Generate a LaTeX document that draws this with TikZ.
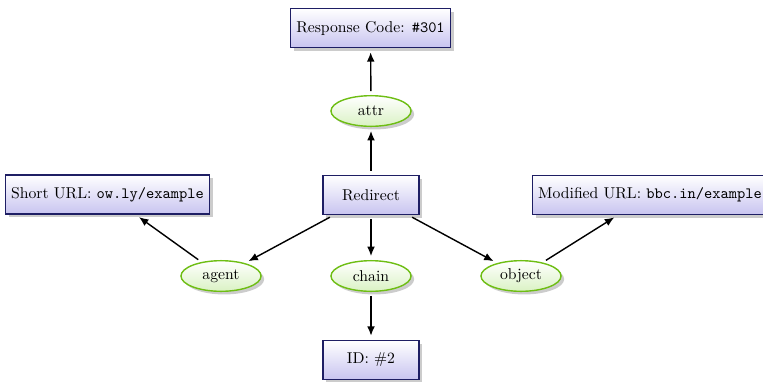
\documentclass[tikz,border=0pt]{standalone}
\usetikzlibrary{shapes.geometric,shadows,arrows.meta}
\definecolor{boxline}{RGB}{30,30,100}
\definecolor{boxbot}{RGB}{200,196,240}
\definecolor{ellline}{RGB}{110,190,20}
\definecolor{ellbot}{RGB}{218,242,196}
\begin{document}
\begin{tikzpicture}[x=0.637pt,y=-0.637pt,
  boxnode/.style={rectangle, draw=boxline, line width=0.9pt, top color=white, bottom color=boxbot,
    minimum height=25pt, minimum width=61pt, inner sep=3.6pt, drop shadow={opacity=0.4,shadow xshift=2pt,shadow yshift=-2pt}},
  ellnode/.style={ellipse, draw=ellline, line width=0.9pt, top color=white, bottom color=ellbot,
    minimum height=19.5pt, minimum width=51pt, inner sep=1pt, drop shadow={opacity=0.4,shadow xshift=2pt,shadow yshift=-2pt}},
  conn/.style={-{Latex[length=6pt,width=5pt]}, line width=0.9pt, shorten >=2.5pt, shorten <=2.5pt}]
\useasboundingbox (0,0) rectangle (763,381);
\begin{scope}
\clip (0,0) rectangle (763,381);
\node[boxnode] (resp) at (370.5,28) {Response Code: \texttt{\#301}};
\node[ellnode] (attr) at (371,111) {attr};
\node[boxnode] (redir) at (371,195) {Redirect};
\node[boxnode] (short) at (107.5,194.5) {Short URL: \texttt{ow.ly/example}};
\node[boxnode] (mod) at (650,195) {Modified URL: \texttt{bbc.in/example}};
\node[ellnode] (agent) at (221,276) {agent};
\node[ellnode] (chain) at (371,276) {chain};
\node[ellnode] (object) at (521,276) {object};
\node[boxnode] (id) at (371,360) {ID: \#2};
\draw[conn] (redir) -- (attr);
\draw[conn] (attr) -- (resp);
\draw[conn] (redir) -- (agent);
\draw[conn] (redir) -- (chain);
\draw[conn] (redir) -- (object);
\draw[conn] (agent) -- (short);
\draw[conn] (chain) -- (id);
\draw[conn] (object) -- (mod);
\end{scope}
\end{tikzpicture}
\end{document}
